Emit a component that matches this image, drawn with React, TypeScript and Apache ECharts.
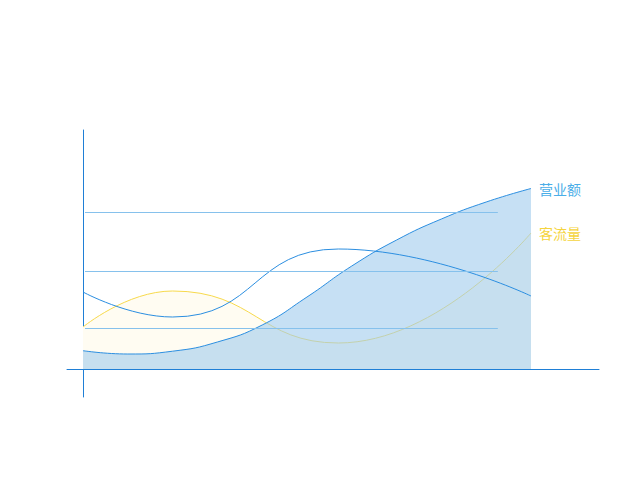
import React, { useEffect, useRef } from "react";
import * as echarts from "echarts";

const revenueX = [0, 10, 20, 30, 40, 50, 60, 70, 80, 90, 100];
const revenue = [18.3, 15, 17.8, 27, 44, 72, 103, 129, 150, 167, 180.5];
const waveX = [0, 20, 57, 100];
const wave = [77, 52, 120, 73];
const trafficX = [0, 20, 57, 100];
const traffic = [42, 78, 26, 136];
const refLevels = [157, 98, 41];
const refStart = 0.45;
const refEnd = 92.6;

const pair = (xs: number[], ys: number[]) => xs.map((x, i) => [x, ys[i]]);

export default function App() {
  const ref = useRef<HTMLDivElement>(null);
  useEffect(() => {
    if (!ref.current) return;
    const chart = echarts.init(ref.current, null, { renderer: "svg" });
    chart.setOption({
      animation: false,
      textStyle: { fontFamily: "'Noto Sans CJK SC', 'Noto Sans', sans-serif" },
      grid: { left: 67, right: 41, top: 130, bottom: 93 },
      xAxis: {
        type: "value",
        min: -3.5714,
        max: 115.18,
        axisLine: { show: true, onZero: true, lineStyle: { color: "#1f7fd6", width: 1 } },
        axisTick: { show: false },
        axisLabel: { show: false },
        splitLine: { show: false },
      },
      yAxis: {
        type: "value",
        min: -28,
        max: 239,
        axisLine: { show: true, onZero: true, lineStyle: { color: "#1f7fd6", width: 1 } },
        axisTick: { show: false },
        axisLabel: { show: false },
        splitLine: { show: false },
      },
      series: [
        {
          name: "客流量",
          type: "line",
          smooth: true,
          symbol: "none",
          data: pair(trafficX, traffic),
          lineStyle: { color: "#f7d94c", width: 1 },
          itemStyle: { color: "#f7d94c" },
          areaStyle: { color: "#fffcf2", opacity: 1 },
          endLabel: {
            show: true,
            formatter: "{a}",
            color: "#f5d43e",
            fontSize: 14,
            distance: 8,
          },
          z: 1,
        },
        {
          name: "营业额",
          type: "line",
          smooth: true,
          symbol: "none",
          data: pair(revenueX, revenue),
          lineStyle: { color: "#2b8ee0", width: 1 },
          itemStyle: { color: "#2b8ee0" },
          areaStyle: { color: "rgba(160,204,237,0.6)", opacity: 1 },
          endLabel: {
            show: true,
            formatter: "{a}",
            color: "#4aaee8",
            fontSize: 14,
            distance: 8,
          },
          z: 2,
        },
        {
          name: "wave",
          type: "line",
          smooth: true,
          symbol: "none",
          data: pair(waveX, wave),
          lineStyle: { color: "#2b8ee0", width: 1 },
          itemStyle: { color: "#2b8ee0" },
          z: 3,
          markLine: {
            silent: true,
            symbol: "none",
            label: { show: false },
            lineStyle: { color: "#86c1ec", width: 1, type: "solid" },
            data: refLevels.map((v) => [
              { coord: [refStart, v] },
              { coord: [refEnd, v] },
            ]),
          },
        },
      ],
    });
    return () => chart.dispose();
  }, []);
  return (
    <div
      ref={ref}
      style={{ position: "absolute", left: 0, top: 0, width: 640, height: 490 }}
    />
  );
}
